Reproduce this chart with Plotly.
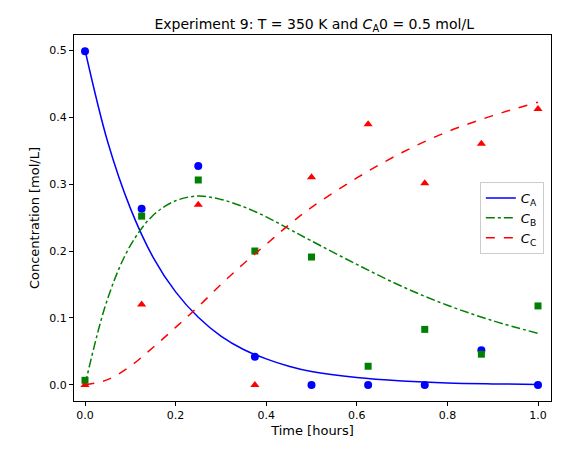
import plotly.graph_objects as go

t_data = [0, 0.125, 0.25, 0.375, 0.5, 0.625, 0.75, 0.875, 1.0]
ca_data = [0.498, 0.263, 0.327, 0.042, 0.0, 0.0, 0.0, 0.052, 0.0]
cb_data = [0.007, 0.252, 0.306, 0.200, 0.191, 0.028, 0.083, 0.046, 0.118]
cc_data = [0.0, 0.120, 0.269, 0.0, 0.310, 0.389, 0.301, 0.360, 0.412]

t_fit = [0, 0.05, 0.1, 0.15, 0.2, 0.25, 0.3, 0.35, 0.4, 0.45, 0.5, 0.6, 0.7, 0.8, 0.9, 1.0]
ca_fit = [0.5, 0.363, 0.264, 0.191, 0.139, 0.101, 0.073, 0.053, 0.039, 0.028, 0.020, 0.011, 0.006, 0.003, 0.0016, 0.0008]
cb_fit = [0, 0.129, 0.208, 0.253, 0.275, 0.282, 0.277, 0.266, 0.251, 0.233, 0.215, 0.180, 0.147, 0.119, 0.096, 0.077]
cc_fit = [0, 0.008, 0.028, 0.056, 0.086, 0.117, 0.150, 0.181, 0.210, 0.239, 0.265, 0.309, 0.347, 0.378, 0.402, 0.422]

fig = go.Figure()
fig.add_scatter(x=t_data, y=ca_data, mode="markers", marker=dict(color="blue", symbol="circle", size=8), showlegend=False)
fig.add_scatter(x=t_data, y=cb_data, mode="markers", marker=dict(color="green", symbol="square", size=7), showlegend=False)
fig.add_scatter(x=t_data, y=cc_data, mode="markers", marker=dict(color="red", symbol="triangle-up", size=8), showlegend=False)
fig.add_scatter(x=t_fit, y=ca_fit, mode="lines", line=dict(color="blue", width=1.5, shape="spline"), name="<i>C</i><sub>A</sub>")
fig.add_scatter(x=t_fit, y=cb_fit, mode="lines", line=dict(color="green", width=1.5, dash="dashdot", shape="spline"), name="<i>C</i><sub>B</sub>")
fig.add_scatter(x=t_fit, y=cc_fit, mode="lines", line=dict(color="red", width=1.5, dash="dash", shape="spline"), name="<i>C</i><sub>C</sub>")

ax = dict(showline=True, linecolor="black", linewidth=1, mirror=True, ticks="outside",
          ticklen=4, tickcolor="black", showgrid=False, zeroline=False)
fig.update_layout(
    width=567, height=454, plot_bgcolor="white", paper_bgcolor="white",
    font=dict(family="DejaVu Sans", size=11, color="black"),
    margin=dict(l=66, r=24, t=27, b=61),
    title=dict(text="Experiment 9: T = 350 K and <i>C</i><sub>A</sub>0 = 0.5 mol/L", x=0.54, xanchor="center", y=0.975, font=dict(size=14)),
    xaxis=dict(ax, range=[-0.0243, 1.0287], tickvals=[0, 0.2, 0.4, 0.6, 0.8, 1.0], ticktext=["0.0", "0.2", "0.4", "0.6", "0.8", "1.0"], title=dict(text="Time [hours]", standoff=4)),
    yaxis=dict(ax, range=[-0.0239, 0.5224], tickvals=[0, 0.1, 0.2, 0.3, 0.4, 0.5], ticktext=["0.0", "0.1", "0.2", "0.3", "0.4", "0.5"], title=dict(text="Concentration [mol/L]", standoff=6)),
    legend=dict(x=0.985, y=0.5, xanchor="right", yanchor="middle", bordercolor="#cccccc", borderwidth=1, bgcolor="rgba(255,255,255,0.8)", font=dict(size=13)),
)
fig.write_html("out.html")
